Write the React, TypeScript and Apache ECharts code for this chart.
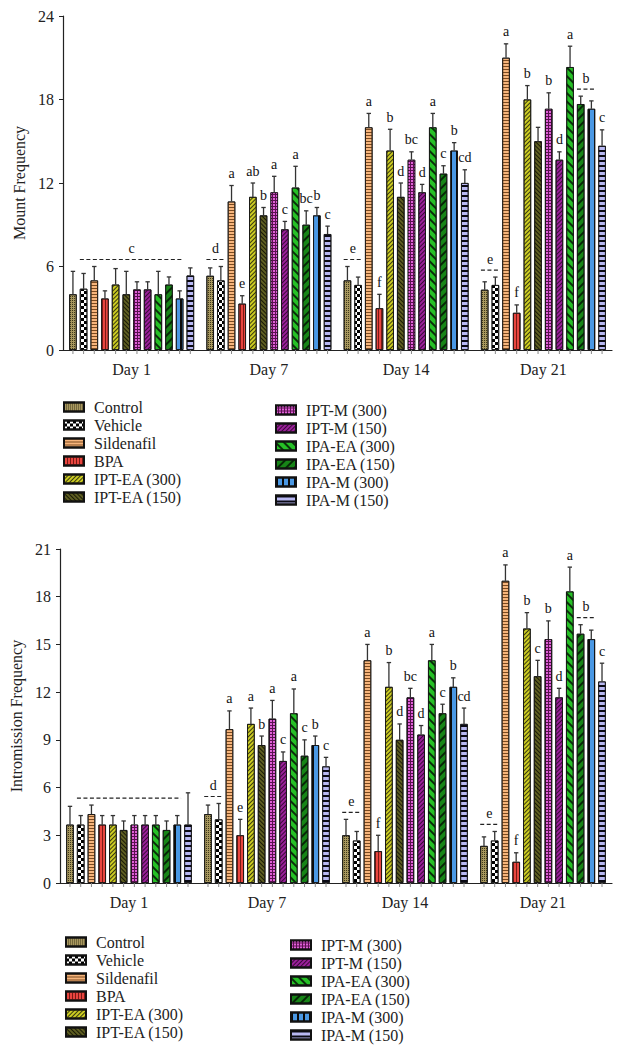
import React, { useEffect, useRef } from "react";
import * as echarts from "echarts";

// ---------- data ----------
const days = ["Day 1", "Day 7", "Day 14", "Day 21"];
const groups = [
  "Control", "Vehicle", "Sildenafil", "BPA", "IPT-EA (300)", "IPT-EA (150)",
  "IPT-M (300)", "IPT-M (150)", "IPA-EA (300)", "IPA-EA (150)", "IPA-M (300)", "IPA-M (150)",
];

// Mount frequency (mean, SEM) per day, one value per group
const mountDay1 = [4.0, 4.4, 5.0, 3.7, 4.7, 4.0, 4.35, 4.35, 4.0, 4.7, 3.7, 5.35];
const mountDay7 = [5.33, 5.0, 10.67, 3.33, 11.0, 9.67, 11.33, 8.67, 11.67, 9.0, 9.67, 8.33];
const mountDay14 = [5.0, 4.67, 16.0, 3.0, 14.33, 11.0, 13.67, 11.33, 16.0, 12.67, 14.33, 12.0];
const mountDay21 = [4.33, 4.67, 21.0, 2.67, 18.0, 15.0, 17.33, 13.67, 20.33, 17.67, 17.33, 14.67];
const mountSemDay1 = [1.65, 1.1, 1.0, 0.55, 1.15, 1.65, 0.55, 0.55, 1.65, 0.55, 0.55, 0.55];
const mountSemDay7 = [0.57, 1.0, 1.15, 0.57, 1.0, 0.57, 1.15, 0.57, 1.53, 1.0, 0.57, 0.57];
const mountSemDay14 = [1.0, 0.57, 1.0, 1.0, 1.53, 1.0, 0.57, 0.57, 1.0, 0.57, 0.57, 0.95];
const mountSemDay21 = [0.57, 0.57, 1.0, 0.57, 1.0, 1.0, 1.15, 0.57, 1.5, 0.57, 0.57, 1.15];
const mountLettersDay1 = ["", "", "", "", "", "", "", "", "", "", "", ""];
const mountLettersDay7 = ["", "", "a", "e", "ab", "b", "a", "c", "a", "bc", "b", "c"];
const mountLettersDay14 = ["", "", "a", "f", "b", "d", "bc", "d", "a", "c", "b", "cd"];
const mountLettersDay21 = ["", "", "a", "f", "b", "", "b", "d", "a", "", "", "c"];
const mountBrackets = [
  { day: 0, from: 1, to: 10, letter: "c" },
  { day: 1, from: 0, to: 1, letter: "d" },
  { day: 2, from: 0, to: 1, letter: "e" },
  { day: 3, from: 0, to: 1, letter: "e" },
  { day: 3, from: 9, to: 10, letter: "b" },
];

// Intromission frequency (mean, SEM)
const introDay1 = [3.67, 3.67, 4.33, 3.67, 3.67, 3.33, 3.67, 3.67, 3.67, 3.33, 3.67, 3.67];
const introDay7 = [4.33, 4.0, 9.67, 3.0, 10.0, 8.67, 10.33, 7.67, 10.67, 8.0, 8.67, 7.33];
const introDay14 = [3.0, 2.67, 14.0, 2.0, 12.33, 9.0, 11.67, 9.33, 14.0, 10.67, 12.33, 10.0];
const introDay21 = [2.33, 2.67, 19.0, 1.33, 16.0, 13.0, 15.33, 11.67, 18.33, 15.67, 15.33, 12.67];
const introSemDay1 = [1.15, 0.57, 0.57, 0.57, 0.57, 0.57, 0.57, 0.57, 0.57, 0.57, 0.57, 2.0];
const introSemDay7 = [0.57, 1.0, 1.15, 1.0, 1.0, 0.57, 1.15, 0.57, 1.53, 1.0, 0.57, 0.57];
const introSemDay14 = [1.0, 0.57, 1.0, 1.0, 1.53, 1.0, 0.57, 0.57, 1.0, 0.57, 0.57, 1.0];
const introSemDay21 = [0.57, 0.57, 1.0, 0.57, 1.0, 1.0, 1.15, 0.57, 1.53, 0.57, 0.57, 1.15];
const introLettersDay1 = ["", "", "", "", "", "", "", "", "", "", "", ""];
const introLettersDay7 = ["", "", "a", "e", "a", "b", "a", "c", "a", "c", "b", "c"];
const introLettersDay14 = ["", "", "a", "f", "b", "d", "bc", "d", "a", "c", "b", "cd"];
const introLettersDay21 = ["", "", "a", "f", "b", "c", "b", "d", "a", "", "", "c"];
const introBrackets = [
  { day: 0, from: 1, to: 10, letter: "" },
  { day: 1, from: 0, to: 1, letter: "d" },
  { day: 2, from: 0, to: 1, letter: "e" },
  { day: 3, from: 0, to: 1, letter: "e" },
  { day: 3, from: 9, to: 10, letter: "b" },
];

const mountTicks = [0, 6, 12, 18, 24];
const introTicks = [0, 3, 6, 9, 12, 15, 18, 21];

// ---------- styles ----------
const FONT = "'Liberation Serif', 'DejaVu Serif', serif";
const N = groups.length;
const CAT_GAP = 0.09;
const BAR_GAP = 0.42;

const fills = [
  "#a8985f", "#ffffff", "#f7b57c", "#e8453f", "#cccc22", "#5e5e22",
  "#5a1050", "#9a209a", "#26c026", "#178517", "#4a98e4", "#b8b8f2",
];
const Q = Math.PI / 4;
const decals: any[] = [
  { symbol: "rect", symbolSize: 1, color: "rgba(45,40,15,0.85)", dashArrayX: [1, 1], dashArrayY: [1, 1] },
  { symbol: "rect", symbolSize: 1, color: "#000000", dashArrayX: [[2.5, 2.5], [0, 2.5, 2.5, 0]], dashArrayY: [2.5, 0] },
  { symbol: "rect", symbolSize: 1, color: "#7a4a20", dashArrayX: [1, 0], dashArrayY: [1, 2] },
  { symbol: "rect", symbolSize: 1, color: "#7a1a15", dashArrayX: [1, 2], dashArrayY: [1, 0] },
  { symbol: "rect", symbolSize: 1, color: "#3a3a10", dashArrayX: [1, 0], dashArrayY: [1, 1.5], rotation: -Q },
  { symbol: "rect", symbolSize: 1, color: "#1a1a06", dashArrayX: [1, 0], dashArrayY: [1, 1.5], rotation: Q },
  { symbol: "rect", symbolSize: 1, color: "#e060d8", dashArrayX: [2, 1], dashArrayY: [2, 1] },
  { symbol: "rect", symbolSize: 1, color: "#3a0838", dashArrayX: [1, 0], dashArrayY: [1, 2], rotation: -Q },
  { symbol: "rect", symbolSize: 1, color: "#0a300a", dashArrayX: [1, 0], dashArrayY: [1.2, 4], rotation: Q },
  { symbol: "rect", symbolSize: 1, color: "#062806", dashArrayX: [1, 0], dashArrayY: [1.2, 4], rotation: -Q },
  { symbol: "rect", symbolSize: 1, color: "#0a0a0a", dashArrayX: [2, 4], dashArrayY: [1, 0] },
  { symbol: "rect", symbolSize: 1, color: "#0a0a14", dashArrayX: [1, 0], dashArrayY: [1.8, 2.5] },
];

function barCenter(api: any, d: number, g: number) {
  const band = api.size([1, 0])[0];
  const w = (band * (1 - CAT_GAP)) / (N + (N - 1) * BAR_GAP);
  const x = api.coord([d, 0])[0] + (g - (N - 1) / 2) * w * (1 + BAR_GAP);
  return { x, w };
}

function letterText(x: number, y: number, text: string) {
  return {
    type: "text",
    x,
    y,
    style: {
      text,
      fill: "#111111",
      fontFamily: FONT,
      fontSize: 14,
      align: "center",
      verticalAlign: "bottom",
    },
  };
}

function buildChart(
  idx: number,
  means: number[][],
  sems: number[][],
  letters: string[][],
  brackets: { day: number; from: number; to: number; letter: string }[]
) {
  const series: any[] = [];
  groups.forEach((name, g) => {
    series.push({
      name,
      type: "bar",
      xAxisIndex: idx,
      yAxisIndex: idx,
      barGap: BAR_GAP * 100 + "%",
      barCategoryGap: CAT_GAP * 100 + "%",
      data: days.map((_, d) => means[d][g]),
      itemStyle: { color: fills[g], borderColor: "#111", borderWidth: 0.8, decal: decals[g] },
    });
  });
  const errData: any[] = [];
  const errLetters: string[] = [];
  days.forEach((_, d) => {
    groups.forEach((__, g) => {
      errData.push([d, means[d][g], sems[d][g], g]);
      errLetters.push(letters[d][g]);
    });
  });
  series.push({
    type: "custom",
    xAxisIndex: idx,
    yAxisIndex: idx,
    z: 10,
    clip: false,
    silent: true,
    data: errData,
    renderItem: (params: any, api: any) => {
      const d = api.value(0);
      const mean = api.value(1);
      const sem = api.value(2);
      const g = api.value(3);
      const { x } = barCenter(api, d, g);
      const yTop = api.coord([d, mean])[1];
      const yErr = api.coord([d, mean + sem])[1];
      const y0 = api.coord([d, 0])[1];
      const letter = errLetters[params.dataIndex];
      const children: any[] = [
        { type: "line", shape: { x1: x, y1: yTop, x2: x, y2: yErr }, style: { stroke: "#333", lineWidth: 1.3 } },
        { type: "line", shape: { x1: x - 2.2, y1: yErr, x2: x + 2.2, y2: yErr }, style: { stroke: "#333", lineWidth: 1.3 } },
        { type: "line", shape: { x1: x, y1: y0, x2: x, y2: y0 + 4 }, style: { stroke: "#888", lineWidth: 1 } },
      ];
      if (letter) children.push(letterText(x, yErr - 5, letter));
      return { type: "group", children };
    },
  });
  const brData = brackets.map((b) => {
    let mx = 0;
    for (let g = b.from; g <= b.to; g++) mx = Math.max(mx, means[b.day][g] + sems[b.day][g]);
    return [b.day, b.from, b.to, mx];
  });
  series.push({
    type: "custom",
    xAxisIndex: idx,
    yAxisIndex: idx,
    z: 10,
    clip: false,
    silent: true,
    data: brData,
    renderItem: (params: any, api: any) => {
      const d = api.value(0);
      const a = barCenter(api, d, api.value(1));
      const b = barCenter(api, d, api.value(2));
      const y = api.coord([d, api.value(3)])[1] - 7;
      const x1 = a.x - a.w / 2;
      const x2 = b.x + b.w / 2;
      const letter = brackets[params.dataIndex].letter;
      const children: any[] = [
        { type: "line", shape: { x1, y1: y, x2, y2: y }, style: { stroke: "#222", lineWidth: 1.2, lineDash: [4, 2.5] } },
      ];
      if (letter) children.push(letterText((x1 + x2) / 2, y - 4, letter));
      return { type: "group", children };
    },
  });
  return series;
}

export default function App() {
  const ref = useRef<HTMLDivElement>(null);
  useEffect(() => {
    if (!ref.current) return;
    const chart = echarts.init(ref.current, undefined, { renderer: "svg" });
    const mountMeans = [mountDay1, mountDay7, mountDay14, mountDay21];
    const mountSems = [mountSemDay1, mountSemDay7, mountSemDay14, mountSemDay21];
    const mountLetters = [mountLettersDay1, mountLettersDay7, mountLettersDay14, mountLettersDay21];
    const introMeans = [introDay1, introDay7, introDay14, introDay21];
    const introSems = [introSemDay1, introSemDay7, introSemDay14, introSemDay21];
    const introLetters = [introLettersDay1, introLettersDay7, introLettersDay14, introLettersDay21];

    const axisLine = { show: true, lineStyle: { color: "#222", width: 1.2 } };
    const labelStyle = { fontFamily: FONT, fontSize: 16, color: "#222" };
    const yAxis = (ticks: number[], name: string) => ({
      type: "value",
      min: ticks[0],
      max: ticks[ticks.length - 1],
      interval: ticks[1] - ticks[0],
      name,
      nameLocation: "middle",
      nameGap: 34,
      nameTextStyle: { fontFamily: FONT, fontSize: 16, color: "#222" },
      axisLine,
      axisTick: { show: true, length: 4, lineStyle: { color: "#222" } },
      axisLabel: { ...labelStyle, margin: 9 },
      splitLine: { show: false },
    });
    const xAxis = (gridIndex: number) => ({
      type: "category",
      gridIndex,
      data: days,
      axisLine,
      axisTick: { show: false },
      axisLabel: { ...labelStyle, margin: 11 },
    });
    const legend = (names: string[], left: number, top: number) => ({
      data: names,
      orient: "vertical",
      left,
      top,
      itemWidth: 20,
      itemHeight: 9,
      itemGap: 2,
      selectedMode: false,
      icon: "rect",
      padding: 0,
      textStyle: { fontFamily: FONT, fontSize: 16, color: "#222", padding: [0, 0, 0, 5] },
    });

    chart.setOption({
      animation: false,
      backgroundColor: "#ffffff",
      grid: [
        { left: 63, top: 16, width: 549, height: 334 },
        { left: 60, top: 549, width: 552, height: 334 },
      ],
      xAxis: [xAxis(0), xAxis(1)],
      yAxis: [
        { ...yAxis(mountTicks, "Mount Frequency"), gridIndex: 0 },
        { ...yAxis(introTicks, "Intromission Frequency"), gridIndex: 1 },
      ],
      legend: [
        legend(groups.slice(0, 6), 63, 399),
        legend(groups.slice(6), 275, 402),
        legend(groups.slice(0, 6), 65, 934),
        legend(groups.slice(6), 290, 937),
      ],
      series: [
        ...buildChart(0, mountMeans, mountSems, mountLetters, mountBrackets),
        ...buildChart(1, introMeans, introSems, introLetters, introBrackets),
      ],
    });
    return () => chart.dispose();
  }, []);
  return (
    <div
      ref={ref}
      style={{ position: "absolute", left: 0, top: 0, width: 623, height: 1056, background: "#fff" }}
    />
  );
}
